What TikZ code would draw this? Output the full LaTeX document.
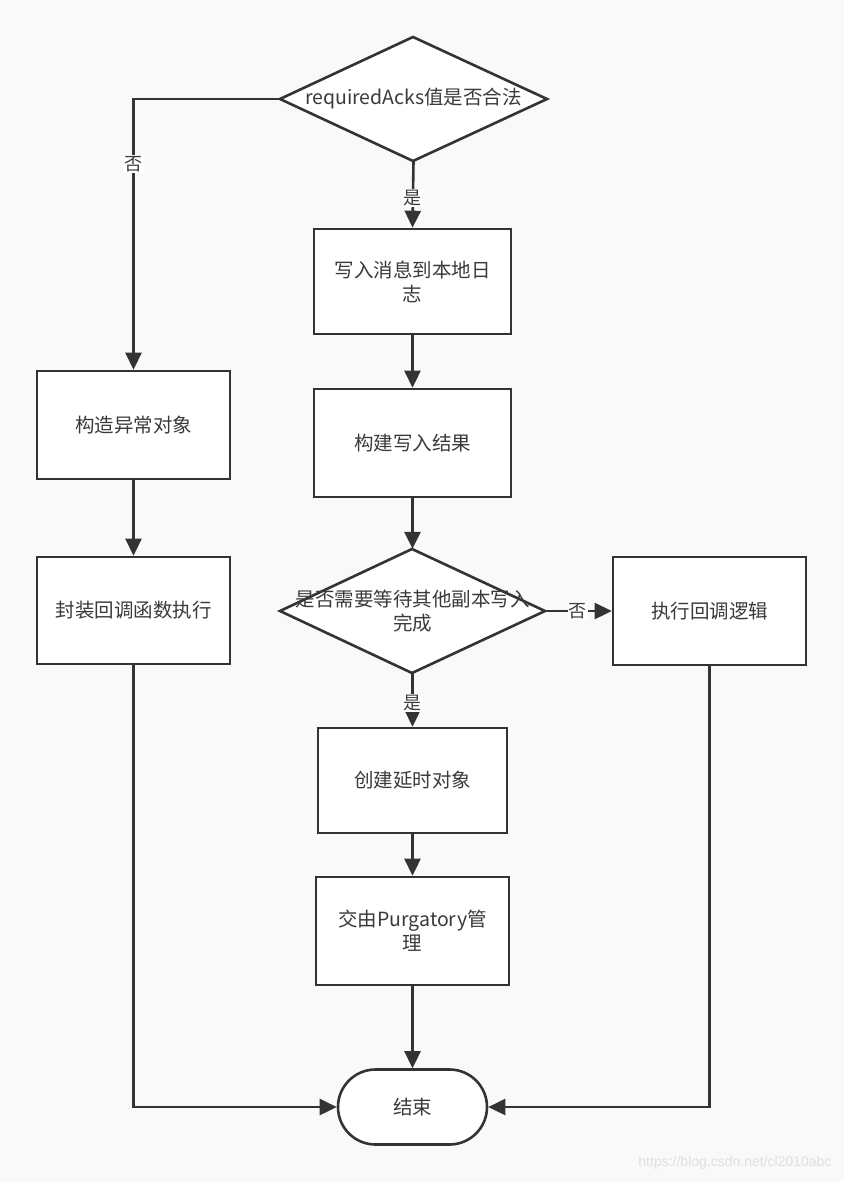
\documentclass[tikz,border=0pt]{standalone}
\usepackage{fontspec}
\setmainfont{Noto Sans CJK SC}
\newfontfamily\wmfont{Liberation Sans}
\usetikzlibrary{arrows.meta,shapes.misc}
\definecolor{bgc}{HTML}{F9F9F9}
\definecolor{ink}{HTML}{333333}
\definecolor{txt}{HTML}{3A3A3A}
\begin{document}
\begin{tikzpicture}[x=1pt,y=-1pt,
  every node/.style={font=\fontsize{19.5}{24}\selectfont, text=txt},
  box/.style={draw=ink, line width=2.6pt, fill=white, rectangle, inner sep=0pt, align=center},
  diaarea/.style={rectangle, inner sep=0pt, align=center},
  diashape/.style={draw=ink, line width=2.6pt, fill=white, line join=miter},
  term/.style={draw=ink, line width=2.6pt, fill=white, rounded rectangle, inner sep=0pt},
  conn/.style={draw=ink, line width=2.6pt, -{Triangle[length=17pt,width=16pt]}},
  lbl/.style={fill=white, inner sep=1pt, font=\fontsize{18}{20}\selectfont}
]
\fill[bgc] (0,0) rectangle (844,1182);
\useasboundingbox (0,0) rectangle (844,1182);

% decision diamonds (outline drawn first, text node on top)
\path[diashape] (280,99) -- (413,37) -- (547,99) -- (413,161) -- cycle;
\node[diaarea, minimum width=267pt, minimum height=124pt] (d1) at (413.5,99) {requiredAcks值是否合法};
\path[diashape] (280,611) -- (412,549) -- (545,611) -- (412,673) -- cycle;
\node[diaarea, minimum width=265pt, minimum height=124pt] (d2) at (412.5,611) {是否需要等待其他副本写入\\完成};

\node[box, minimum width=197pt, minimum height=105pt] (a) at (412.5,281.5) {写入消息到本地日\\志};
\node[box, minimum width=197pt, minimum height=108pt] (b) at (412.5,443) {构建写入结果};
\node[box, minimum width=193pt, minimum height=108pt] (r) at (709.5,611) {执行回调逻辑};
\node[box, minimum width=189pt, minimum height=105pt] (c) at (412.5,780.5) {创建延时对象};
\node[box, minimum width=193pt, minimum height=108pt] (d) at (412.5,931) {交由Purgatory管\\理};
\node[term, minimum width=149pt, minimum height=75pt] (e) at (412.5,1107) {结束};
\node[box, minimum width=193pt, minimum height=108pt] (l1) at (133.5,425) {构造异常对象};
\node[box, minimum width=193pt, minimum height=107pt] (l2) at (133.5,610.5) {封装回调函数执行};

\coordinate (k1) at (133.5,99);
\coordinate (k2) at (133.5,1107);
\coordinate (k3) at (709.5,1107);

\draw[conn] (d1.west) -- (k1) -- node[lbl, pos=0.24] {否} (l1.north);
\draw[conn] (d1.south) -- node[lbl, pos=0.55] {是} (a.north);
\draw[conn] (a) -- (b);
\draw[conn] (b) -- (d2.north);
\draw[conn] (d2.east) -- node[lbl, pos=0.49] {否} (r.west);
\draw[conn] (d2.south) -- node[lbl, pos=0.55] {是} (c.north);
\draw[conn] (c) -- (d);
\draw[conn] (d) -- (e);
\draw[conn] (l1) -- (l2);
\draw[conn] (l2.south) -- (k2) -- (e.west);
\draw[conn] (r.south) -- (k3) -- (e.east);

\node[anchor=east, text=black!12, font=\wmfont\fontsize{14}{16}\selectfont] (wm) at (835,1163) {https://blog.csdn.net/cl2010abc};
\end{tikzpicture}
\end{document}
